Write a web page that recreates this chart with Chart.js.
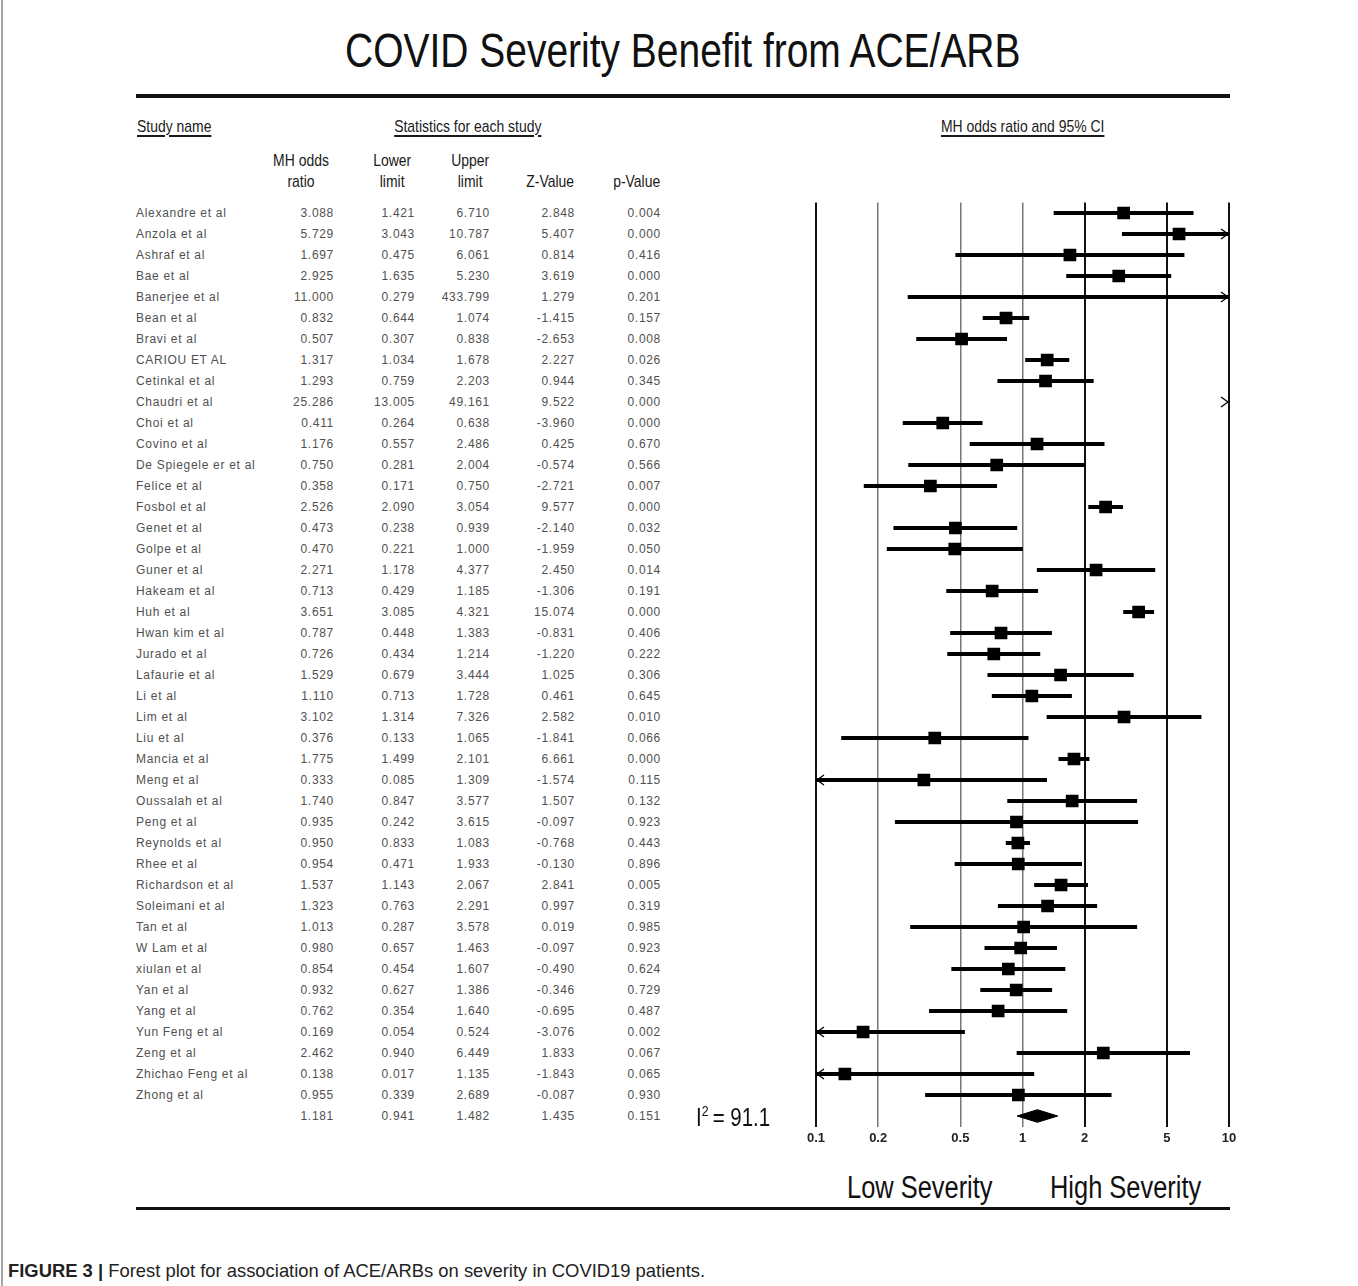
<!DOCTYPE html>
<html>
<head>
<meta charset="utf-8">
<title>COVID Severity Benefit from ACE/ARB</title>
<script src="https://cdn.jsdelivr.net/npm/chart.js@4.4.1/dist/chart.umd.min.js"></script>
<style>
  html, body { margin: 0; padding: 0; background: #fff; }
  #page { position: relative; width: 1358px; height: 1286px; overflow: hidden; background: #fff; }
  .abs { position: absolute; white-space: nowrap; }
  .narrow { font-family: "Liberation Sans", Arial, sans-serif; }
  /* condensed look: horizontally squeezed text */
  .sq { display: inline-block; transform: scaleX(0.82); transform-origin: left center; }
  .sqc { display: inline-block; transform: scaleX(0.82); transform-origin: center center; }
  .cell { font-family: "Liberation Sans", Arial, sans-serif; font-size: 12px; line-height: 16px;
          letter-spacing: 0.7px; color: #505050; }
  .num { text-align: right; }
  .hdr { font-size: 17px; color: #1a1a1a; }
  .ul { text-decoration: underline; text-decoration-thickness: 1.5px; text-underline-offset: 3px; }
  .rule { position: absolute; background: #111; }
  #frame { position: absolute; left: 1px; top: 0; width: 2px; height: 1286px; background: #a8a8a8; }
  #plotBox { position: absolute; left: 780px; top: 180px; width: 478px; height: 980px; }
</style>
</head>
<body>
<div id="page">
  <div id="frame"></div>

  <div class="abs narrow" style="left:183px;top:27px;width:1000px;text-align:center;font-size:47.5px;line-height:47px;color:#111;"><span class="sqc">COVID Severity Benefit from ACE/ARB</span></div>
  <div class="rule" style="left:136px;top:94px;width:1094px;height:4px;"></div>

  <div class="abs narrow hdr" style="left:137px;top:117px;line-height:20px;"><span class="sq ul">Study name</span></div>
  <div class="abs narrow hdr" style="left:318px;top:117px;width:300px;text-align:center;line-height:20px;"><span class="sqc ul">Statistics for each study</span></div>
  <div class="abs narrow hdr" style="left:873px;top:117px;width:300px;text-align:center;line-height:20px;"><span class="sqc ul">MH odds ratio and 95% CI</span></div>

  <div class="abs narrow hdr" style="left:251px;top:150px;width:100px;text-align:center;line-height:21px;"><span class="sqc">MH odds<br>ratio</span></div>
  <div class="abs narrow hdr" style="left:342px;top:150px;width:100px;text-align:center;line-height:21px;"><span class="sqc">Lower<br>limit</span></div>
  <div class="abs narrow hdr" style="left:420px;top:150px;width:100px;text-align:center;line-height:21px;"><span class="sqc">Upper<br>limit</span></div>
  <div class="abs narrow hdr" style="left:500px;top:172px;width:100px;text-align:center;line-height:20px;"><span class="sqc">Z-Value</span></div>
  <div class="abs narrow hdr" style="left:587px;top:172px;width:100px;text-align:center;line-height:20px;"><span class="sqc">p-Value</span></div>

  <div id="rows"></div>

  <div id="plotBox"><canvas id="forest" width="478" height="980"></canvas></div>

  <div class="abs narrow" style="left:696px;top:1103px;font-size:25px;line-height:28px;color:#111;"><span class="sq">I<span style="font-size:15px;position:relative;top:-10px;">2</span>&thinsp;= 91.1</span></div>

  <div class="abs narrow" style="left:847px;top:1170px;font-size:31px;line-height:36px;color:#111;"><span class="sq">Low Severity</span></div>
  <div class="abs narrow" style="left:1050px;top:1170px;font-size:31px;line-height:36px;color:#111;"><span class="sq">High Severity</span></div>
  <div class="rule" style="left:136px;top:1207px;width:1094px;height:3px;"></div>

  <div class="abs" style="left:8px;top:1260px;font-family:'Liberation Sans',Arial,sans-serif;font-size:18.4px;line-height:22px;color:#222;"><b>FIGURE 3 |</b> Forest plot for association of ACE/ARBs on severity in COVID19 patients.</div>
</div>

<script>
// Individual studies (MH odds ratio with 95% confidence limits)
const studies = [
  "Alexandre et al", "Anzola et al", "Ashraf et al", "Bae et al", "Banerjee et al",
  "Bean et al", "Bravi et al", "CARIOU ET AL", "Cetinkal et al", "Chaudri et al",
  "Choi et al", "Covino et al", "De Spiegele er et al", "Felice et al", "Fosbol et al",
  "Genet et al", "Golpe et al", "Guner et al", "Hakeam et al", "Huh et al",
  "Hwan kim et al", "Jurado et al", "Lafaurie et al", "Li et al", "Lim et al",
  "Liu et al", "Mancia et al", "Meng et al", "Oussalah et al", "Peng et al",
  "Reynolds et al", "Rhee et al", "Richardson et al", "Soleimani et al", "Tan et al",
  "W Lam et al", "xiulan et al", "Yan et al", "Yang et al", "Yun Feng et al",
  "Zeng et al", "Zhichao Feng et al", "Zhong et al"
];
const oddsRatio = [
  3.088, 5.729, 1.697, 2.925, 11.000, 0.832, 0.507, 1.317, 1.293, 25.286,
  0.411, 1.176, 0.750, 0.358, 2.526, 0.473, 0.470, 2.271, 0.713, 3.651,
  0.787, 0.726, 1.529, 1.110, 3.102, 0.376, 1.775, 0.333, 1.740, 0.935,
  0.950, 0.954, 1.537, 1.323, 1.013, 0.980, 0.854, 0.932, 0.762, 0.169,
  2.462, 0.138, 0.955
];
const lowerLimit = [
  1.421, 3.043, 0.475, 1.635, 0.279, 0.644, 0.307, 1.034, 0.759, 13.005,
  0.264, 0.557, 0.281, 0.171, 2.090, 0.238, 0.221, 1.178, 0.429, 3.085,
  0.448, 0.434, 0.679, 0.713, 1.314, 0.133, 1.499, 0.085, 0.847, 0.242,
  0.833, 0.471, 1.143, 0.763, 0.287, 0.657, 0.454, 0.627, 0.354, 0.054,
  0.940, 0.017, 0.339
];
const upperLimit = [
  6.710, 10.787, 6.061, 5.230, 433.799, 1.074, 0.838, 1.678, 2.203, 49.161,
  0.638, 2.486, 2.004, 0.750, 3.054, 0.939, 1.000, 4.377, 1.185, 4.321,
  1.383, 1.214, 3.444, 1.728, 7.326, 1.065, 2.101, 1.309, 3.577, 3.615,
  1.083, 1.933, 2.067, 2.291, 3.578, 1.463, 1.607, 1.386, 1.640, 0.524,
  6.449, 1.135, 2.689
];
const zValue = [
  2.848, 5.407, 0.814, 3.619, 1.279, -1.415, -2.653, 2.227, 0.944, 9.522,
  -3.960, 0.425, -0.574, -2.721, 9.577, -2.140, -1.959, 2.450, -1.306, 15.074,
  -0.831, -1.220, 1.025, 0.461, 2.582, -1.841, 6.661, -1.574, 1.507, -0.097,
  -0.768, -0.130, 2.841, 0.997, 0.019, -0.097, -0.490, -0.346, -0.695, -3.076,
  1.833, -1.843, -0.087
];
const pValue = [
  0.004, 0.000, 0.416, 0.000, 0.201, 0.157, 0.008, 0.026, 0.345, 0.000,
  0.000, 0.670, 0.566, 0.007, 0.000, 0.032, 0.050, 0.014, 0.191, 0.000,
  0.406, 0.222, 0.306, 0.645, 0.010, 0.066, 0.000, 0.115, 0.132, 0.923,
  0.443, 0.896, 0.005, 0.319, 0.985, 0.923, 0.624, 0.729, 0.487, 0.002,
  0.067, 0.065, 0.930
];

// Pooled estimate
const pooledOR = 1.181;
const pooledLower = 0.941;
const pooledUpper = 1.482;
const pooledZ = 1.435;
const pooledP = 0.151;

// Axis
const xTicks = [0.1, 0.2, 0.5, 1, 2, 5, 10];
const xMin = 0.1, xMax = 10;

// ---------- table text ----------
const ROW0 = 213, ROW_H = 21;
const columns = [
  { right: 334, get: i => i < studies.length ? oddsRatio[i] : pooledOR },
  { right: 415, get: i => i < studies.length ? lowerLimit[i] : pooledLower },
  { right: 490, get: i => i < studies.length ? upperLimit[i] : pooledUpper },
  { right: 575, get: i => i < studies.length ? zValue[i] : pooledZ },
  { right: 661, get: i => i < studies.length ? pValue[i] : pooledP }
];
const rowsEl = document.getElementById('rows');
const nRows = studies.length + 1;
for (let i = 0; i < nRows; i++) {
  const top = ROW0 + ROW_H * i - 8;
  if (i < studies.length) {
    const n = document.createElement('div');
    n.className = 'abs cell';
    n.style.left = '136px';
    n.style.top = top + 'px';
    n.textContent = studies[i];
    rowsEl.appendChild(n);
  }
  columns.forEach(c => {
    const d = document.createElement('div');
    d.className = 'abs cell num';
    d.style.left = (c.right - 80) + 'px';
    d.style.width = '80px';
    d.style.top = top + 'px';
    d.textContent = c.get(i).toFixed(3);
    rowsEl.appendChild(d);
  });
}

// ---------- forest plot ----------
const pooledRow = studies.length;
const ciData = studies.map((s, i) => ({ x: [lowerLimit[i], upperLimit[i]], y: i }));
const pointData = studies.map((s, i) => ({ x: oddsRatio[i], y: i }));
const DIAMOND_HALF = 0.3;
const diamondData = [
  { x: pooledLower, y: pooledRow },
  { x: pooledOR, y: pooledRow - DIAMOND_HALF },
  { x: pooledUpper, y: pooledRow },
  { x: pooledOR, y: pooledRow + DIAMOND_HALF },
  { x: pooledLower, y: pooledRow }
];

// open arrow heads where a confidence interval runs past the axis range
const arrowPlugin = {
  id: 'ciArrows',
  afterDatasetsDraw(chart) {
    const xs = chart.scales.x, ys = chart.scales.y;
    const ctx = chart.ctx;
    ctx.save();
    ctx.strokeStyle = '#000';
    ctx.lineWidth = 1.3;
    studies.forEach((s, i) => {
      const y = ys.getPixelForValue(i);
      if (lowerLimit[i] < xMin) {
        const tip = xs.getPixelForValue(xMin) + 1;
        ctx.beginPath();
        ctx.moveTo(tip + 7, y - 5); ctx.lineTo(tip, y); ctx.lineTo(tip + 7, y + 5);
        ctx.stroke();
      }
      if (upperLimit[i] > xMax) {
        const tip = xs.getPixelForValue(xMax) - 1;
        ctx.beginPath();
        ctx.moveTo(tip - 7, y - 5); ctx.lineTo(tip, y); ctx.lineTo(tip - 7, y + 5);
        ctx.stroke();
      }
    });
    ctx.restore();
  }
};

const thinLines = [0.2, 0.5, 1];

new Chart(document.getElementById('forest'), {
  type: 'bar',
  data: {
    datasets: [
      {
        type: 'bar',
        indexAxis: 'y',
        data: ciData,
        backgroundColor: '#000',
        borderWidth: 0,
        barThickness: 3.5
      },
      {
        type: 'scatter',
        data: pointData,
        pointStyle: 'rect',
        pointRadius: 9,
        backgroundColor: '#000',
        borderColor: '#000',
        borderWidth: 0
      },
      {
        type: 'line',
        data: diamondData,
        borderColor: '#000',
        backgroundColor: '#000',
        borderWidth: 1,
        pointRadius: 0,
        tension: 0,
        fill: 'shape'
      }
    ]
  },
  options: {
    responsive: false,
    devicePixelRatio: 1,
    animation: false,
    events: [],
    indexAxis: 'y',
    layout: { padding: { left: 36, right: 29, top: 22.5, bottom: 13.5 } },
    plugins: { legend: { display: false }, tooltip: { enabled: false } },
    scales: {
      x: {
        type: 'logarithmic',
        min: xMin,
        max: xMax,
        offset: false,
        afterBuildTicks: scale => { scale.ticks = xTicks.map(v => ({ value: v })); },
        afterFit: scale => { scale.height = 20; },
        ticks: {
          autoSkip: false,
          maxRotation: 0,
          padding: 4,
          color: '#222',
          font: { family: "'Liberation Sans', Arial", size: 13, weight: 'bold' },
          callback: v => String(v)
        },
        grid: {
          drawTicks: false,
          offset: false,
          color: ctx => thinLines.includes(ctx.tick && ctx.tick.value) ? '#777' : '#111',
          lineWidth: ctx => thinLines.includes(ctx.tick && ctx.tick.value) ? 1.5 : 2
        },
        border: { display: false }
      },
      y: {
        type: 'linear',
        min: -0.5,
        max: nRows - 0.5,
        reverse: true,
        offset: false,
        grace: 0,
        display: false,
        grid: { offset: false }
      }
    }
  },
  plugins: [arrowPlugin]
});
</script>
</body>
</html>
